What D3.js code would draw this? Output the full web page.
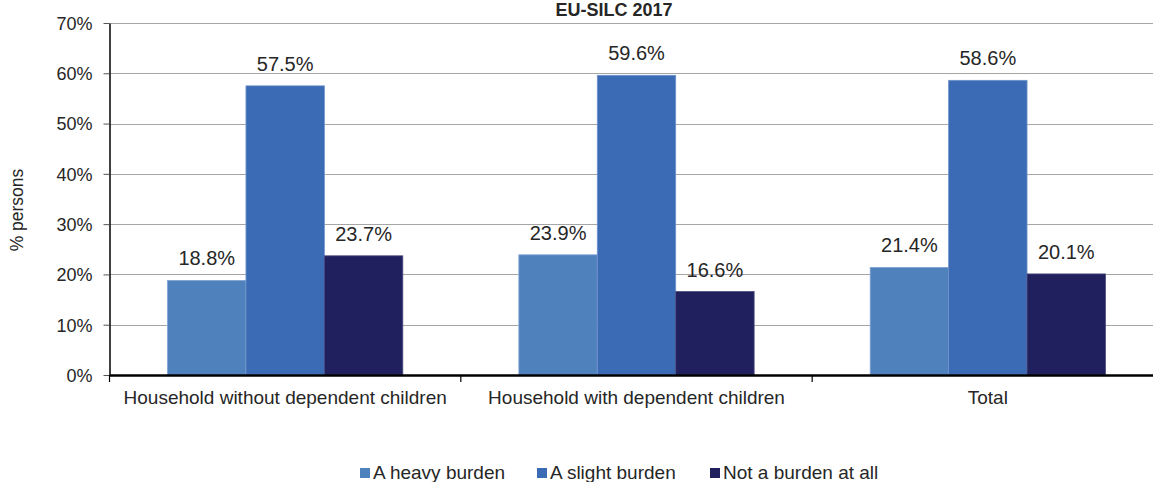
<!DOCTYPE html>
<html>
<head>
<meta charset="utf-8">
<script src="https://cdn.jsdelivr.net/npm/d3@7"></script>
<style>
  body { margin: 0; background: #fff; }
  svg { display: block; font-family: "Liberation Sans", Arial, sans-serif; }
</style>
</head>
<body>
<svg id="chart" width="1153" height="482"></svg>
<script>
const categories = ["Household without dependent children", "Household with dependent children", "Total"];
const seriesNames = ["A heavy burden", "A slight burden", "Not a burden at all"];
const heavyBurden = [18.8, 23.9, 21.4];
const slightBurden = [57.5, 59.6, 58.6];
const notBurden = [23.7, 16.6, 20.1];
const yTicks = [0, 10, 20, 30, 40, 50, 60, 70];
const colors = ["#4F81BD", "#3B6BB5", "#21205F"];
const strokes = ["#7FA3D3", "#6F93CC", "#4A4A80"];

const seriesValues = [heavyBurden, slightBurden, notBurden];
const data = categories.map((c, i) => ({
  cat: c,
  vals: seriesNames.map((s, j) => ({ s, j, v: seriesValues[j][i] }))
}));

const svg = d3.select("#chart");
const plotLeft = 109.5, plotRight = 1163.5, plotTop = 23, plotBottom = 375;

const x0 = d3.scaleBand().domain(categories).range([plotLeft, plotRight]).padding(0);
const x1 = d3.scaleBand().domain(seriesNames).range([0, x0.bandwidth()]).paddingInner(0).paddingOuter(0.74);
const y = d3.scaleLinear().domain([0, 70]).range([plotBottom, plotTop]);

// gridlines
svg.append("g").selectAll("line").data(yTicks.filter(t => t > 0)).join("line")
  .attr("x1", plotLeft).attr("x2", 1153)
  .attr("y1", d => Math.round(y(d)) + 0.5).attr("y2", d => Math.round(y(d)) + 0.5)
  .attr("stroke", "#A6A6A6").attr("stroke-width", 1);

// bars
const g = svg.append("g").selectAll("g").data(data).join("g")
  .attr("transform", d => `translate(${x0(d.cat)},0)`);
g.selectAll("rect").data(d => d.vals).join("rect")
  .attr("x", d => x1(d.s))
  .attr("y", d => y(d.v))
  .attr("width", x1.bandwidth())
  .attr("height", d => plotBottom - y(d.v))
  .attr("fill", d => colors[d.j])
  .attr("stroke", d => strokes[d.j]).attr("stroke-width", 0.8);
g.selectAll("text").data(d => d.vals).join("text")
  .attr("x", d => x1(d.s) + x1.bandwidth() / 2)
  .attr("y", d => y(d.v) - 15)
  .attr("text-anchor", "middle")
  .attr("font-size", 20).attr("fill", "#262626")
  .text(d => d.v.toFixed(1) + "%");

// y axis
const yAxis = d3.axisLeft(y).tickValues(yTicks).tickFormat(d => d + "%").tickSize(6).tickSizeOuter(0);
const ya = svg.append("g").attr("transform", `translate(${plotLeft},0)`).call(yAxis);
ya.select(".domain").attr("stroke", "#000").attr("stroke-width", 1.5);
ya.selectAll(".tick line").attr("stroke", "#555");
ya.selectAll(".tick text").attr("font-size", 18).attr("fill", "#262626")
  .attr("font-family", "Liberation Sans, Arial, sans-serif").attr("x", -17).attr("dy", "0.35em");

// x axis
const xAxis = d3.axisBottom(x0).tickSize(0).tickSizeOuter(0);
const xa = svg.append("g").attr("transform", `translate(0,${plotBottom})`).call(xAxis);
xa.select(".domain").attr("stroke", "#000").attr("stroke-width", 2.5);
xa.selectAll(".tick text").attr("font-size", 19).attr("fill", "#262626")
  .attr("font-family", "Liberation Sans, Arial, sans-serif").attr("y", 29).attr("dy", 0);
// category separator ticks
const sepVals = categories.map(c => x0(c)).concat([x0.range()[1]]);
svg.append("g").selectAll("line").data(sepVals).join("line")
  .attr("x1", d => d).attr("x2", d => d).attr("y1", plotBottom).attr("y2", plotBottom + 7)
  .attr("stroke", "#000").attr("stroke-width", 1.2);

// y label
svg.append("text").attr("transform", "translate(23,210) rotate(-90)")
  .attr("text-anchor", "middle").attr("font-size", 17.5).attr("fill", "#262626")
  .text("% persons");

// title
svg.append("text").attr("x", 614).attr("y", 16).attr("text-anchor", "middle")
  .attr("font-size", 18).attr("font-weight", "bold").attr("fill", "#262626")
  .text("EU-SILC 2017");

// legend
const legendX = [360, 537, 710];
const lg = svg.append("g").selectAll("g").data(seriesNames).join("g")
  .attr("transform", (d, i) => `translate(${legendX[i]},0)`);
lg.append("rect").attr("x", 0).attr("y", 468).attr("width", 10).attr("height", 10)
  .attr("fill", (d, i) => colors[i]);
lg.append("text").attr("x", 13).attr("y", 479).attr("font-size", 19).attr("fill", "#262626")
  .text(d => d);
</script>
</body>
</html>
